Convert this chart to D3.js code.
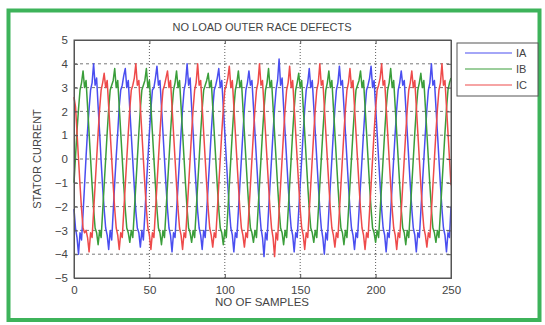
<!DOCTYPE html>
<html>
<head>
<meta charset="utf-8">
<script src="https://cdn.jsdelivr.net/npm/d3@7"></script>
<style>
  body { margin: 0; background: #fff; }
  text { font-family: "Liberation Sans", Arial, sans-serif; fill: #444; }
</style>
</head>
<body>
<svg id="chart" width="545" height="325"></svg>
<script>
// values, one per sample (0..250)
var samples = d3.range(0, 251);

var ia = [
  -2.1,-2.9,-3.3,-4.0,-3.1,-3.4,-2.3,-1.1,0.1,1.2,2.1,2.9,3.2,4.0,3.1,3.4,2.2,1.1,-0.1,-1.2,
  -2.1,-2.9,-3.2,-3.8,-3.0,-3.4,-2.2,-1.0,0.1,1.1,2.2,2.9,3.1,3.5,3.8,3.0,3.3,2.1,1.0,-0.1,
  -1.2,-2.2,-2.9,-3.1,-3.7,-3.0,-3.4,-2.3,-1.1,0.0,1.1,2.1,2.9,3.0,3.4,3.9,3.1,3.3,2.2,1.1,
  0.0,-1.1,-2.1,-2.9,-3.2,-3.9,-3.1,-3.3,-2.2,-1.1,0.0,1.1,2.1,2.9,3.2,4.0,3.1,3.4,2.2,1.1,
  -0.1,-1.2,-2.2,-2.9,-3.2,-3.8,-3.0,-3.3,-2.2,-1.1,0.0,1.1,2.1,2.9,3.1,3.4,3.8,3.0,3.3,2.2,
  1.1,0.0,-1.1,-2.1,-2.9,-3.2,-3.9,-3.1,-3.3,-2.2,-1.1,0.0,1.1,2.1,2.9,3.2,3.7,3.1,3.3,2.2,
  1.1,0.0,-1.1,-2.1,-2.9,-3.3,-4.1,-3.1,-3.4,-2.2,-1.1,0.0,1.1,2.1,2.9,3.3,4.2,3.1,3.4,2.2,
  1.1,0.0,-1.1,-2.1,-2.9,-3.2,-3.9,-3.1,-3.3,-2.2,-1.1,0.0,1.1,2.1,2.9,3.2,3.8,3.0,3.3,2.2,
  1.1,0.0,-1.1,-2.1,-2.9,-3.3,-4.0,-3.1,-3.4,-2.2,-1.1,0.0,1.1,2.1,2.9,3.2,3.9,3.1,3.3,2.2,
  1.1,0.0,-1.1,-2.1,-2.9,-3.2,-3.8,-3.1,-3.3,-2.2,-1.1,0.0,1.1,2.1,2.9,3.1,3.4,3.9,3.0,3.3,
  2.2,1.1,0.0,-1.1,-2.1,-2.9,-3.2,-3.9,-3.1,-3.3,-2.2,-1.1,0.0,1.1,2.1,2.9,3.2,3.7,3.1,3.3,
  2.2,1.1,0.0,-1.1,-2.1,-2.9,-3.2,-3.9,-3.1,-3.3,-2.2,-1.1,0.0,1.1,2.1,2.9,3.2,4.0,3.1,3.3,
  2.2,1.1,0.0,-1.1,-2.1,-2.9,-3.2,-3.9,-3.1,-3.3,-2.0
];

var ib = [
  -1.0,0.1,1.2,2.1,2.9,3.2,3.7,3.0,3.3,2.2,1.1,0.0,-1.1,-2.1,-2.9,-3.1,-3.6,-3.0,-3.3,-2.2,
  -1.1,0.0,1.1,2.1,2.9,3.1,3.3,3.8,3.0,3.3,2.2,1.1,0.0,-1.1,-2.1,-2.9,-3.1,-3.5,-3.0,-3.3,
  -2.2,-1.1,0.0,1.1,2.1,2.9,3.1,3.3,3.8,3.0,3.3,2.2,1.1,0.0,-1.1,-2.1,-2.9,-3.1,-3.6,-3.0,
  -3.3,-2.2,-1.1,0.0,1.1,2.1,2.9,3.2,3.7,3.0,3.3,2.2,1.1,0.0,-1.1,-2.1,-2.9,-3.1,-3.5,-3.0,
  -3.3,-2.2,-1.1,0.0,1.1,2.1,2.9,3.1,3.3,3.6,3.0,3.3,2.2,1.1,0.0,-1.1,-2.1,-2.9,-3.1,-3.6,
  -3.0,-3.3,-2.2,-1.1,0.0,1.1,2.1,2.9,3.2,3.7,3.0,3.3,2.2,1.1,0.0,-1.1,-2.1,-2.9,-3.1,-3.5,
  -3.0,-3.3,-2.2,-1.1,0.0,1.1,2.1,2.9,3.2,3.8,3.0,3.3,2.2,1.1,0.0,-1.1,-2.1,-2.9,-3.1,-3.6,
  -3.0,-3.3,-2.2,-1.1,0.0,1.1,2.1,2.9,3.2,3.6,3.0,3.3,2.2,1.1,0.0,-1.1,-2.1,-2.9,-3.1,-3.5,
  -3.0,-3.3,-2.2,-1.1,0.0,1.1,2.1,2.9,3.2,3.7,3.0,3.3,2.2,1.1,0.0,-1.1,-2.1,-2.9,-3.1,-3.6,
  -3.0,-3.3,-2.2,-1.1,0.0,1.1,2.1,2.9,3.1,3.3,3.7,3.0,3.3,2.2,1.1,0.0,-1.1,-2.1,-2.9,-3.1,
  -3.5,-3.0,-3.3,-2.2,-1.1,0.0,1.1,2.1,2.9,3.2,3.8,3.0,3.3,2.2,1.1,0.0,-1.1,-2.1,-2.9,-3.1,
  -3.6,-3.0,-3.3,-2.2,-1.1,0.0,1.1,2.1,2.9,3.2,3.6,3.0,3.3,2.2,1.1,0.0,-1.1,-2.1,-2.9,-3.1,
  -3.5,-3.0,-3.3,-2.2,-1.1,0.0,1.1,2.1,2.9,3.2,3.4
];

var ic = [
  2.6,2.2,1.1,0.0,-1.1,-2.1,-2.9,-3.1,-3.0,-3.3,-3.9,-3.1,-3.3,-2.2,-1.1,0.0,1.1,2.1,2.9,3.2,
  3.6,3.0,3.3,2.2,1.1,0.0,-1.1,-2.1,-2.9,-3.2,-3.8,-3.1,-3.3,-2.2,-1.1,0.0,1.1,2.1,2.9,3.1,
  3.4,4.0,3.1,3.3,2.2,1.1,0.0,-1.1,-2.1,-2.9,-3.2,-3.8,-3.1,-3.3,-2.2,-1.1,0.0,1.1,2.1,2.9,
  3.1,3.4,3.7,3.0,3.3,2.2,1.1,0.0,-1.1,-2.1,-2.9,-3.2,-3.8,-3.1,-3.3,-2.2,-1.1,0.0,1.1,2.1,
  2.9,3.2,4.0,3.1,3.3,2.2,1.1,0.0,-1.1,-2.1,-2.9,-3.2,-3.7,-3.1,-3.3,-2.2,-1.1,0.0,1.1,2.1,
  2.9,3.1,3.4,3.9,3.0,3.3,2.2,1.1,0.0,-1.1,-2.1,-2.9,-3.2,-3.7,-3.1,-3.3,-2.2,-1.1,0.0,1.1,
  2.1,2.9,3.2,4.0,3.1,3.3,2.2,1.1,0.0,-1.1,-2.1,-2.9,-3.3,-4.1,-3.1,-3.4,-2.2,-1.1,0.0,1.1,
  2.1,2.9,3.2,3.9,3.0,3.3,2.2,1.1,0.0,-1.1,-2.1,-2.9,-3.2,-3.8,-3.1,-3.3,-2.2,-1.1,0.0,1.1,
  2.1,2.9,3.2,4.0,3.1,3.3,2.2,1.1,0.0,-1.1,-2.1,-2.9,-3.2,-3.7,-3.1,-3.3,-2.2,-1.1,0.0,1.1,
  2.1,2.9,3.2,3.8,3.0,3.3,2.2,1.1,0.0,-1.1,-2.1,-2.9,-3.2,-3.8,-3.1,-3.3,-2.2,-1.1,0.0,1.1,
  2.1,2.9,3.1,3.4,4.0,3.1,3.3,2.2,1.1,0.0,-1.1,-2.1,-2.9,-3.2,-3.8,-3.1,-3.3,-2.2,-1.1,0.0,
  1.1,2.1,2.9,3.2,3.7,3.0,3.3,2.2,1.1,0.0,-1.1,-2.1,-2.9,-3.2,-3.7,-3.1,-3.3,-2.2,-1.1,0.0,
  1.1,2.1,2.9,3.2,4.0,3.1,3.3,2.2,1.1,0.0,-1.1
];

var seriesNames = ["IA", "IB", "IC"];
var seriesColors = ["#4a4ef0", "#3a9e3a", "#ee4a4a"];
var xTicks = [0, 50, 100, 150, 200, 250];
var yTicks = [-5, -4, -3, -2, -1, 0, 1, 2, 3, 4, 5];

var svg = d3.select("#chart");

// green frame round the figure
svg.append("rect")
  .attr("x", 8.5).attr("y", 10.5)
  .attr("width", 531).attr("height", 309.5)
  .attr("fill", "#fff")
  .attr("stroke", "#3db35a")
  .attr("stroke-width", 4);

// plot box (note: "top" is a reserved window global, so use other names)
var pLeft = 74, pRight = 451, pTop = 40, pBottom = 278;

var x = d3.scaleLinear().domain([0, 250]).range([pLeft, pRight]);
var y = d3.scaleLinear().domain([-5, 5]).range([pBottom, pTop]);

// grid
var grid = svg.append("g");
grid.selectAll("line.gy")
  .data(yTicks.filter(function(d) { return d > -5 && d < 5; }))
  .enter().append("line")
    .attr("x1", pLeft).attr("x2", pRight)
    .attr("y1", function(d) { return y(d); })
    .attr("y2", function(d) { return y(d); })
    .attr("stroke", "#555")
    .attr("stroke-width", 0.8)
    .attr("stroke-dasharray", "3,3");
grid.selectAll("line.gx")
  .data(xTicks.filter(function(d) { return d > 0 && d < 250; }))
  .enter().append("line")
    .attr("x1", function(d) { return x(d); })
    .attr("x2", function(d) { return x(d); })
    .attr("y1", pTop).attr("y2", pBottom)
    .attr("stroke", "#333")
    .attr("stroke-width", 0.8)
    .attr("stroke-dasharray", "1,2");

// the three phases
var line = d3.line()
  .x(function(d, i) { return x(samples[i]); })
  .y(function(d) { return y(d); });

[ia, ib, ic].forEach(function(s, k) {
  svg.append("path")
    .datum(s)
    .attr("d", line)
    .attr("fill", "none")
    .attr("stroke", seriesColors[k])
    .attr("stroke-width", 1.5)
    .attr("stroke-linejoin", "round");
});

// axes box
svg.append("rect")
  .attr("x", pLeft).attr("y", pTop)
  .attr("width", pRight - pLeft).attr("height", pBottom - pTop)
  .attr("fill", "none")
  .attr("stroke", "#555")
  .attr("stroke-width", 1);

svg.append("g")
  .attr("transform", "translate(0," + pBottom + ")")
  .call(d3.axisBottom(x).tickValues(xTicks).tickSize(-4).tickPadding(8));
svg.append("g")
  .attr("transform", "translate(" + pLeft + ",0)")
  .call(d3.axisLeft(y).tickValues(yTicks).tickSize(-4).tickPadding(6));

svg.append("g")
  .attr("transform", "translate(" + pRight + ",0)")
  .call(d3.axisRight(y).tickValues(yTicks).tickSize(-4).tickFormat(""));
svg.append("g")
  .attr("transform", "translate(0," + pTop + ")")
  .call(d3.axisTop(x).tickValues(xTicks).tickSize(-4).tickFormat(""));

svg.selectAll(".domain").attr("stroke", "#555");
svg.selectAll(".tick line").attr("stroke", "#555");
svg.selectAll(".tick text")
  .style("font-family", "Liberation Sans, Arial, sans-serif")
  .style("font-size", "11.5px")
  .attr("fill", "#444");

// titles
svg.append("text")
  .attr("x", 262).attr("y", 31)
  .attr("text-anchor", "middle")
  .style("font-size", "11px")
  .text("NO LOAD OUTER RACE DEFECTS");
svg.append("text")
  .attr("x", 262).attr("y", 306)
  .attr("text-anchor", "middle")
  .style("font-size", "11.5px")
  .text("NO OF SAMPLES");
svg.append("text")
  .attr("transform", "translate(41,159) rotate(-90)")
  .attr("text-anchor", "middle")
  .style("font-size", "11px")
  .text("STATOR CURRENT");

// legend
var legend = svg.append("g");
legend.append("rect")
  .attr("x", 457).attr("y", 43)
  .attr("width", 81).attr("height", 53)
  .attr("fill", "#fff")
  .attr("stroke", "#555")
  .attr("stroke-width", 1);
var item = legend.selectAll("g.item")
  .data(seriesNames)
  .enter().append("g")
    .attr("transform", function(d, i) { return "translate(0," + (53 + i * 16) + ")"; });
item.append("line")
  .attr("x1", 465).attr("x2", 512)
  .attr("y1", 0).attr("y2", 0)
  .attr("stroke", function(d, i) { return seriesColors[i]; })
  .attr("stroke-width", 1.2);
item.append("text")
  .attr("x", 516).attr("y", 4)
  .style("font-size", "11px")
  .text(function(d) { return d; });
</script>
</body>
</html>
